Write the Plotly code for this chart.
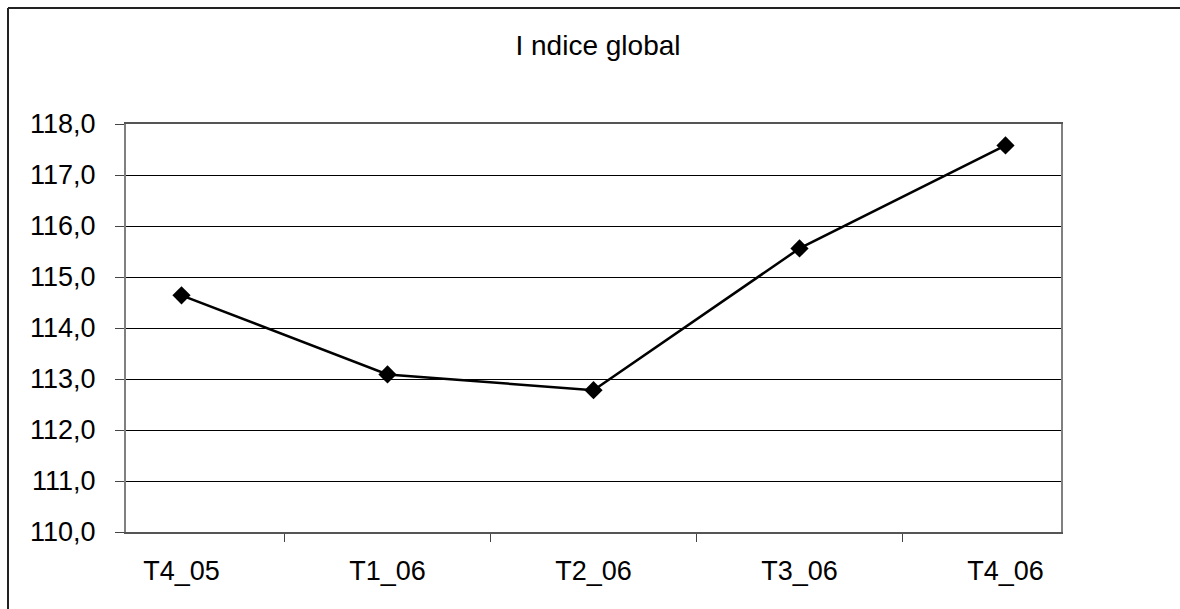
import plotly.graph_objects as go

categories = ["T4_05", "T1_06", "T2_06", "T3_06", "T4_06"]
values = [114.64, 113.09, 112.78, 115.56, 117.58]
y_ticks = [110, 111, 112, 113, 114, 115, 116, 117, 118]

W, H = 1180, 609
ML, MR, MT, MB = 126, 119, 124, 77
PW, PH = W - ML - MR, H - MT - MB

fig = go.Figure()
fig.add_trace(go.Scatter(
    x=categories, y=values, mode="lines+markers",
    line=dict(color="black", width=2.5),
    marker=dict(symbol="diamond", size=14, color="black"),
    showlegend=False,
))

font_family = "Liberation Sans, Arial, sans-serif"

fig.update_layout(
    width=W, height=H,
    margin=dict(l=ML, r=MR, t=MT, b=MB),
    paper_bgcolor="white", plot_bgcolor="white",
    separators=", ",
    font=dict(family=font_family, color="black", size=27),
    title=dict(text="I ndice global", x=598 / W, xref="container", xanchor="center",
               y=1 - 45 / H, yref="container", yanchor="middle",
               font=dict(size=28, family=font_family, color="black")),
    xaxis=dict(
        type="category", tickson="boundaries", ticks="outside", ticklen=8,
        tickcolor="#444", showgrid=False, showline=True, linecolor="#555",
        linewidth=2, mirror=True, tickfont=dict(size=27),
        ticklabelstandoff=14,
    ),
    yaxis=dict(
        range=[110, 118], tickvals=y_ticks, tickformat=".1f", ticks="outside",
        ticklen=9, tickcolor="#444", showgrid=True, gridcolor="black", gridwidth=1,
        showline=True, linecolor="#808080", linewidth=2, mirror=True,
        zeroline=False, tickfont=dict(size=27), ticklabelstandoff=14,
    ),
)

# outer chart-area border (only left and top edges visible in reference)
bx = (8 - ML) / PW
by = 1 + (MT - 8) / PH
x_end = (W - ML) / PW
y_end = -MB / PH
fig.add_shape(type="line", xref="paper", yref="paper",
              x0=bx, x1=bx, y0=y_end, y1=by,
              line=dict(color="#222", width=2), layer="above")
fig.add_shape(type="line", xref="paper", yref="paper",
              x0=bx, x1=x_end, y0=by, y1=by,
              line=dict(color="#222", width=2), layer="above")

fig.write_html("out.html", config={"displayModeBar": False},
               post_script="document.body.style.margin='0px';document.body.style.overflow='hidden';")
